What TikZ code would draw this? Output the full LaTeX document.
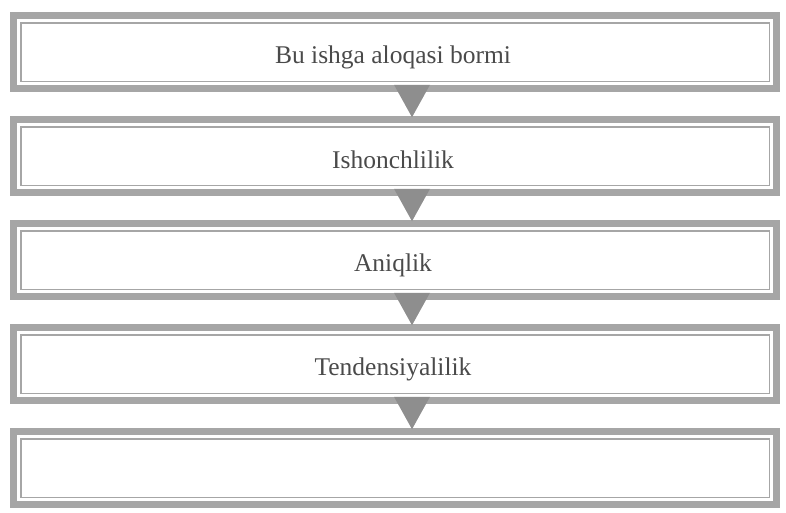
\documentclass[tikz,border=0pt]{standalone}
\usepackage{fontspec}
\setmainfont{Liberation Serif}
\usepackage{tikz}
\usetikzlibrary{calc,positioning}
\definecolor{framegray}{HTML}{A6A6A6}
\definecolor{arrowgray}{HTML}{8E8E8E}
\definecolor{inkgray}{HTML}{4A4A4A}

\begin{document}
\begin{tikzpicture}[x=1pt,y=1pt]
    \tikzstyle{stage}=[draw=framegray,line width=6.5pt,minimum width=763pt,minimum height=73pt,inner sep=0pt,font=\fontsize{25.5}{30}\selectfont,text=inkgray]
    \tikzstyle{inner frame}=[draw=framegray,line width=1.5pt]
    \tikzstyle{down}=[fill=arrowgray,draw=none]

\useasboundingbox (0,0) rectangle (786,-512);

\node[stage] (s1) at (395,-52) {};
\node[stage] (s2) at (395,-156) {};
\node[stage] (s3) at (395,-260) {};
\node[stage] (s4) at (395,-364) {};
\node[stage] (s5) at (395,-468) {};

% captions, set a little below the middle
\node[stage,draw=none] (t1) at ($(s1)+(-2pt,-5pt)$) {Bu ishga aloqasi bormi};
\node[stage,draw=none] (t2) at ($(s2)+(-2pt,-4pt)$) {Ishonchlilik};
\node[stage,draw=none] (t3) at ($(s3)+(-2pt,-5pt)$) {Aniqlik};
\node[stage,draw=none] (t4) at ($(s4)+(-2pt,-5pt)$) {Tendensiyalilik};

% thin inner line of every frame
\foreach \s in {s1,s2,s3,s4,s5}
    \draw[inner frame] ($(\s.north west)+(10.5pt,-10.5pt)$) rectangle ($(\s.south east)+(-10.5pt,10.5pt)$);

% wedges between the frames
\foreach \a/\b in {s1/s2,s2/s3,s3/s4,s4/s5}
    \fill[down] ($(\a.south)+(-1pt,7pt)$) -- ($(\a.south)+(35pt,7pt)$) -- ($(\b.north)+(17pt,-1pt)$) -- cycle;
\end{tikzpicture}
\end{document}
